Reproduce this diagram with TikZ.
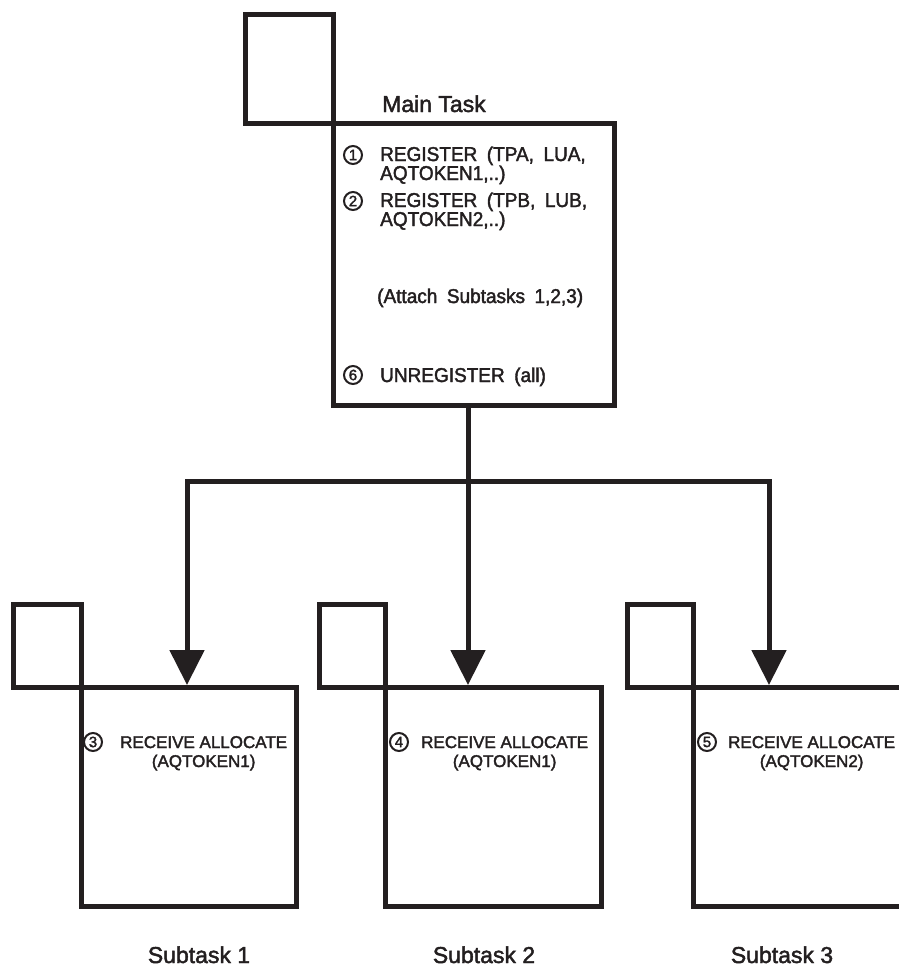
\documentclass[tikz,border=0pt]{standalone}
\usepackage{fontspec}
\setmainfont[FakeBold=2]{Liberation Sans}
\newfontfamily\itemfont[FakeStretch=0.95,WordSpace=1.8,FakeBold=2]{Liberation Sans}
\newfontfamily\labfont[WordSpace=1.8,FakeBold=2]{Liberation Sans}
\newfontfamily\subfontx[FakeBold=2]{Liberation Sans}
\usetikzlibrary{arrows.meta}
\definecolor{ink}{HTML}{231F20}
\begin{document}
\begin{tikzpicture}[x=1pt,y=-1pt,
  box/.style={draw=ink, line width=5pt, rectangle, anchor=north west, inner sep=0pt, outer sep=0pt},
  conn/.style={draw=ink, line width=5pt},
  arr/.style={conn, -{Triangle[width=34pt,length=35pt]}},
  num/.style={circle, draw=ink, line width=2pt, minimum size=18pt, inner sep=0pt, text=ink, font=\subfontx\fontsize{15}{15}\selectfont},
  itm/.style={anchor=base west, inner sep=0pt, text=ink, font=\itemfont\fontsize{20}{20}\selectfont},
  subitm/.style={inner sep=0pt, text=ink, font=\subfontx\fontsize{17}{17}\selectfont},
  lab/.style={inner sep=0pt, text=ink, font=\labfont\fontsize{23}{23}\selectfont}]
\path[use as bounding box, clip] (0,0) rectangle (899,967);

% main task
\node[box, minimum width=88pt, minimum height=109pt] (msq) at (245,14) {};
\node[box, minimum width=281pt, minimum height=282pt] (mbox) at (333,123) {};
\node[lab, anchor=base west] (mlab) at (382,112) {Main Task};
\node[num] (n1) at (353,155) {1};
\node[itm] (r1a) at (380,161) {REGISTER (TPA, LUA,};
\node[itm] (r1b) at (380,180) {AQTOKEN1,..)};
\node[num] (n2) at (353,201) {2};
\node[itm] (r2a) at (380,207) {REGISTER (TPB, LUB,};
\node[itm] (r2b) at (380,226) {AQTOKEN2,..)};
\node[itm] (att) at (377,303) {(Attach Subtasks 1,2,3)};
\node[num] (n6) at (353,375) {6};
\node[itm] (unr) at (380,382) {UNREGISTER (all)};

% subtasks
\node[box, minimum width=68pt, minimum height=83pt] (s1sq) at (13,604) {};
\node[box, minimum width=215pt, minimum height=219pt] (s1) at (81,687) {};
\node[box, minimum width=66pt, minimum height=83pt] (s2sq) at (319,604) {};
\node[box, minimum width=216pt, minimum height=219pt] (s2) at (385,687) {};
\node[box, minimum width=66pt, minimum height=83pt] (s3sq) at (627,604) {};
\node[box, minimum width=300pt, minimum height=219pt] (s3) at (693,687) {};

\node[num] (n3) at (93,742) {3};
\node[subitm, anchor=base west] (t3a) at (120,748) {RECEIVE ALLOCATE};
\node[subitm, anchor=base] (t3b) at (t3a.base) [yshift=-19pt] {(AQTOKEN1)};
\node[num] (n4) at (399,742) {4};
\node[subitm, anchor=base west] (t4a) at (421,748) {RECEIVE ALLOCATE};
\node[subitm, anchor=base] (t4b) at (t4a.base) [yshift=-19pt] {(AQTOKEN1)};
\node[num] (n5) at (707,742) {5};
\node[subitm, anchor=base west] (t5a) at (728,748) {RECEIVE ALLOCATE};
\node[subitm, anchor=base] (t5b) at (t5a.base) [yshift=-19pt] {(AQTOKEN2)};

\node[lab, anchor=base] (l1) at (199,963) {Subtask 1};
\node[lab, anchor=base] (l2) at (484,963) {Subtask 2};
\node[lab, anchor=base] (l3) at (782,963) {Subtask 3};

% connectors
\coordinate (j) at (468,481);
\coordinate (t1) at (187,685);
\coordinate (t2) at (468,685);
\coordinate (t3) at (769,685);
\draw[conn] (mbox.south -| j) -- (j);
\draw[arr] (j) -| (t1);
\draw[arr] (j) -| (t3);
\draw[arr] (j) -- (t2);
\end{tikzpicture}
\end{document}
